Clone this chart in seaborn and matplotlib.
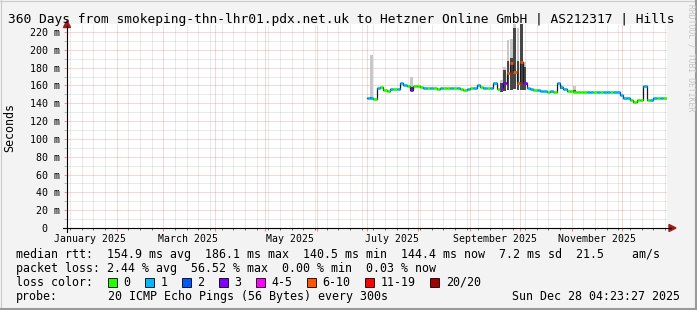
import numpy as np
import pandas as pd
import matplotlib
matplotlib.use("Agg")
import matplotlib.pyplot as plt
import matplotlib.dates as mdates
import matplotlib.transforms as mtransforms
from matplotlib.ticker import MultipleLocator, FuncFormatter, NullFormatter
from matplotlib.patches import Polygon, Rectangle
from matplotlib.lines import Line2D
import seaborn as sns

# ---------------- data ----------------
title = "360 Days from smokeping-thn-lhr01.pdx.net.uk to Hetzner Online GmbH | AS212317 | Hills"
range_start = "2025-01-02 04:23:27"
range_end = "2025-12-28 04:23:27"
first_sample = "2025-07-01"
sample_step_days = 2

# median RTT (ms), one value per 2-day sample from 1 Jul 2025
median_ms = [
    145.6, 145.6, 144.5, 157.0, 158.6, 155.0, 153.5, 156.0, 156.0, 156.0,
    162.4, 160.0, 159.8, 155.0, 159.8, 159.0, 158.6, 157.5, 157.0, 157.5,
    157.5, 156.0, 157.5, 157.5, 157.5, 157.0, 157.5, 157.0, 156.5, 155.0,
    156.5, 157.0, 157.0, 160.5, 158.0, 157.0, 157.0, 156.8, 163.0, 156.0,
    157.0, 163.0, 174.0, 185.0, 175.0, 163.0, 186.0, 163.0, 157.0, 155.5,
    155.0, 155.0, 154.0, 154.0, 153.0, 154.0, 153.0, 162.4, 158.6, 156.0,
    154.0, 154.0, 153.0, 153.0, 153.0, 153.0, 153.0, 153.0, 153.0, 153.0,
    153.0, 153.0, 153.0, 153.0, 153.0, 153.0, 149.0, 145.5, 145.5, 143.6,
    141.0, 143.6, 143.6, 159.4, 144.0, 144.0, 145.5, 145.5, 145.5, 145.5,
    145.5,
]
# lost pings (of 20) per sample
loss_pings = [
    1, 1, 0, 1, 0, 0, 0, 1, 0, 1,
    1, 1, 0, 3, 0, 0, 0, 1, 0, 1,
    0, 0, 1, 0, 0, 1, 0, 1, 0, 0,
    1, 0, 1, 1, 0, 1, 0, 1, 1, 0,
    3, 3, 8, 8, 8, 8, 8, 3, 1, 1,
    0, 1, 1, 1, 0, 1, 0, 1, 1, 1,
    0, 0, 0, 0, 0, 0, 1, 1, 0, 1,
    0, 1, 1, 0, 1, 1, 1, 1, 1, 0,
    0, 0, 0, 1, 0, 1, 1, 0, 1, 0,
    1,
]
# visible "smoke" (ping spread) at some samples
smoke_index = [1, 13, 40, 41, 42, 43, 44, 45, 46, 47, 58, 62]
smoke_low = [145, 154, 153, 154, 155, 155, 156, 155, 155, 155, 156, 153]
smoke_dark_top = [147, 158, 163, 177, 188, 191, 224, 187, 229, 181, 158, 155]
smoke_top = [194, 170, 166, 181, 211, 212, 229, 224, 229, 186, 161, 159]

y_max = 229
x_label_text = ["January 2025", "March 2025", "May 2025", "July 2025",
                "September 2025", "November 2025"]
x_label_dates = ["2025-01-16", "2025-03-16", "2025-05-16", "2025-07-16",
                 "2025-09-16", "2025-11-16"]

loss_labels = ["0", "1", "2", "3", "4-5", "6-10", "11-19", "20/20"]
loss_upper = [0, 1, 2, 3, 5, 10, 19, 20]
loss_colors = ["#26ff00", "#00b8ff", "#0059ff", "#7e00ff", "#ff00ff",
               "#ff5500", "#ff0000", "#a00000"]

line_rtt = "median rtt:  154.9 ms avg  186.1 ms max  140.5 ms min  144.4 ms now  7.2 ms sd  21.5    am/s"
line_loss = "packet loss: 2.44 % avg  56.52 % max  0.00 % min  0.03 % now"
line_probe_a = "probe:"
line_probe_b = "20 ICMP Echo Pings (56 Bytes) every 300s"
line_date = "Sun Dec 28 04:23:27 2025"

# ---------------- figure ----------------
W, H, DPI = 697, 310, 100
MONO = "DejaVu Sans Mono"
plt.rcParams["font.family"] = [MONO, "DejaVu Sans"]

def fx(x):
    return x / W

def fy(y):
    return 1 - y / H

fig = plt.figure(figsize=(W / DPI, H / DPI), dpi=DPI, facecolor="#f3f3f3")
ax = fig.add_axes([fx(67), fy(228), 600 / W, 204 / H])
ax.set_facecolor("white")
for s in ax.spines.values():
    s.set_visible(False)

t = pd.date_range(first_sample, periods=len(median_ms), freq=f"{sample_step_days}D")
tx = mdates.date2num(t.to_pydatetime())

def loss_color(n):
    for up, c in zip(loss_upper, loss_colors):
        if n <= up:
            return c
    return loss_colors[-1]

df = pd.DataFrame({"t": tx, "median": median_ms, "loss": loss_pings})
df["color"] = [loss_color(n) for n in df["loss"]]

# smoke
si = np.array(smoke_index)
lo = np.array(smoke_low, dtype=float)
ax.bar(tx[si], np.array(smoke_top) - lo, bottom=lo, width=sample_step_days * 0.8,
       align="edge", color="#c8c8c8", lw=0, zorder=2)
ax.bar(tx[si], np.array(smoke_dark_top) - lo, bottom=lo, width=sample_step_days * 0.8,
       align="edge", color="#474747", lw=0, zorder=2.1)

# median: dark step line + loss-coloured segments
sns.lineplot(data=df, x="t", y="median", drawstyle="steps-post", color="#1a1a1a",
             lw=0.9, estimator=None, ax=ax, zorder=3, legend=False)
ax.hlines(df["median"].values[:-1], tx[:-1], tx[1:], colors=df["color"].values[:-1],
          lw=1.9, zorder=4)

ax.set_xlabel("")
ax.set_ylabel("")
x0 = mdates.date2num(pd.Timestamp(range_start).to_pydatetime())
x1 = mdates.date2num(pd.Timestamp(range_end).to_pydatetime())
ax.set_xlim(x0, x1)
ax.set_ylim(0, y_max)

# grid
ax.xaxis.set_major_locator(mdates.MonthLocator())
ax.xaxis.set_minor_locator(mdates.WeekdayLocator(byweekday=mdates.SA))
ax.xaxis.set_major_formatter(NullFormatter())
ax.xaxis.set_minor_formatter(NullFormatter())
ax.yaxis.set_major_locator(MultipleLocator(20))
ax.yaxis.set_minor_locator(MultipleLocator(10))
ax.yaxis.set_major_formatter(FuncFormatter(lambda v, p: "0  " if v == 0 else f"{v:.0f} m"))
ax.set_axisbelow(True)
ax.grid(True, which="major", color="#f07070", lw=0.72, ls=(0, (1, 1)), alpha=0.55)
ax.grid(True, which="minor", color="#a0a0a0", lw=0.72, ls=(0, (1, 1)), alpha=0.45)

ax.tick_params(axis="y", which="major", length=2.2, width=0.72, color="#ff9090",
               pad=2.9, labelsize=7.2)
ax.tick_params(axis="y", which="minor", length=2.2, width=0.72, color="#b8b8b8")
ax.tick_params(axis="x", which="major", length=2.2, width=0.72, color="#ff8080")
ax.tick_params(axis="x", which="minor", length=1.5, width=0.72, color="#707070")

blend = mtransforms.blended_transform_factory(ax.transData, ax.transAxes)
for d, s in zip(x_label_dates, x_label_text):
    ax.text(mdates.date2num(pd.Timestamp(d).to_pydatetime()), -10.5 / 204, s,
            transform=blend, ha="center", va="center", fontsize=7.15)

# axes lines and arrows
arrow_c = "#9b1b1b"
fig.add_artist(Line2D([fx(63), fx(671)], [fy(228), fy(228)], color="black",
                      lw=0.8, transform=fig.transFigure))
fig.add_artist(Line2D([fx(67), fx(67)], [fy(232), fy(26)], color="black",
                      lw=0.8, transform=fig.transFigure))
fig.add_artist(Polygon([[fx(676), fy(228)], [fx(669), fy(224.5)], [fx(669), fy(231.5)]],
                       closed=True, transform=fig.transFigure, color=arrow_c))
fig.add_artist(Polygon([[fx(67), fy(20.5)], [fx(63.5), fy(27.5)], [fx(70.5), fy(27.5)]],
                       closed=True, transform=fig.transFigure, color=arrow_c))

# titles
fig.text(fx(8), fy(19.5), title, ha="left", va="center", fontsize=9.3)
fig.text(fx(10), fy(127), "Seconds", rotation=90, ha="center", va="center", fontsize=8.4)
fig.text(fx(691), fy(4), "RRDTOOL / TOBI OETIKER", rotation=270, ha="center", va="top",
         fontsize=5.8, color="#c4c4c4")

# legend block
fs = 8.4
fig.text(fx(16), fy(254.7), line_rtt, ha="left", va="center", fontsize=fs)
fig.text(fx(16), fy(268.4), line_loss, ha="left", va="center", fontsize=fs)
fig.text(fx(16), fy(282.2), "loss color:", ha="left", va="center", fontsize=fs)
fig.text(fx(16), fy(296.2), line_probe_a, ha="left", va="center", fontsize=fs)
fig.text(fx(107.5), fy(296.2), line_probe_b, ha="left", va="center", fontsize=fs)
fig.text(fx(680.5), fy(296.2), line_date, ha="right", va="center", fontsize=fs)

cur = 108.0
char_w = 7.02
for lab, col in zip(loss_labels, loss_colors):
    fig.add_artist(Rectangle((fx(cur), fy(286.7)), 9 / W, 9 / H, transform=fig.transFigure,
                             facecolor=col, edgecolor="black", lw=0.6))
    lx = cur + 15.5
    fig.text(fx(lx), fy(282.2), lab, ha="left", va="center", fontsize=fs)
    cur = lx + len(lab) * char_w + 14.5

# frame
fig.add_artist(Line2D([0, 1], [fy(0.5), fy(0.5)], color="#cbcbcb", lw=0.8, transform=fig.transFigure))
fig.add_artist(Line2D([fx(0.5), fx(0.5)], [0, 1], color="#cbcbcb", lw=0.8, transform=fig.transFigure))
fig.add_artist(Line2D([0, 1], [fy(309), fy(309)], color="#999999", lw=1.5, transform=fig.transFigure))
fig.add_artist(Line2D([fx(696), fx(696)], [0, 1], color="#999999", lw=1.5, transform=fig.transFigure))

fig.savefig("out.png", dpi=DPI, facecolor=fig.get_facecolor())
